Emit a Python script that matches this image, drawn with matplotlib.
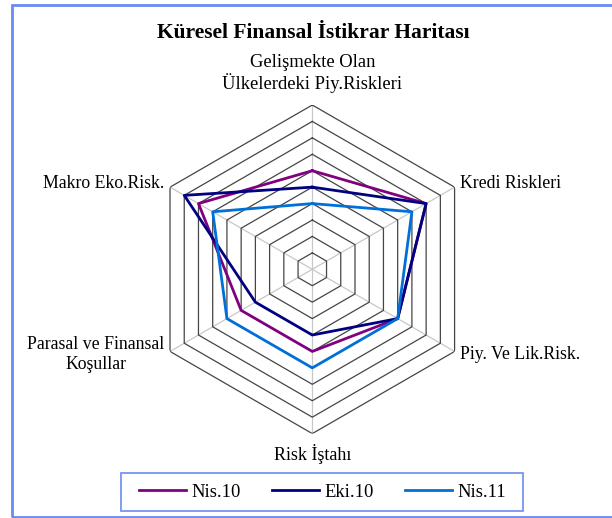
import numpy as np
import matplotlib
matplotlib.use("Agg")
import matplotlib.pyplot as plt
from matplotlib.patches import Rectangle

categories = ["Gelişmekte Olan\nÜlkelerdeki Piy.Riskleri", "Kredi Riskleri",
              "Piy. Ve Lik.Risk.", "Risk İştahı",
              "Parasal ve Finansal\nKoşullar", "Makro Eko.Risk."]
series_names = ["Nis.10", "Eki.10", "Nis.11"]
nis10 = [6, 8, 6, 5, 5, 8]
eki10 = [5, 8, 6, 4, 4, 9]
nis11 = [4, 7, 6, 6, 6, 7]
colors = ["#800080", "#000080", "#0070D8"]
rmax = 10

plt.rcParams['font.family'] = ['Liberation Serif', 'DejaVu Serif']

fig = plt.figure(figsize=(6.12, 5.18), dpi=100)
W, H = 612, 518
cx, cy, R = 312.3, 269.3, 164.3
ax = fig.add_axes([(cx - R) / W, (H - cy - R) / H, 2 * R / W, 2 * R / H], projection='polar')
ax.set_theta_offset(np.pi / 2)
ax.set_theta_direction(-1)
ax.set_ylim(0, rmax)
ax.spines['polar'].set_visible(False)
ax.grid(False)
ax.set_xticks([])
ax.set_yticks([])
ax.patch.set_alpha(0)

n = len(categories)
theta = np.linspace(0, 2 * np.pi, n, endpoint=False)
theta_c = np.append(theta, theta[0])

for t in theta:
    ax.plot([t, t], [0, rmax], color="#C8C8C8", lw=0.9, zorder=1)
for r in range(1, rmax + 1):
    ax.plot(theta_c, [r] * (n + 1), color="#454545", lw=0.9, zorder=2)

for vals, name, c in zip([nis10, eki10, nis11], series_names, colors):
    v = list(vals) + [vals[0]]
    ax.plot(theta_c, v, color=c, lw=2.0, label=name, zorder=3)

# Category labels
fs_top = 13.4
fs_side = 12.8
ls = 1.12
ax.text(theta[0], 10.75, categories[0], ha='center', va='bottom', fontsize=fs_top, linespacing=ls)
ax.text(theta[1], 10.4, categories[1], ha='left', va='center', fontsize=fs_side)
ax.text(theta[2], 10.4, categories[2], ha='left', va='center', fontsize=fs_side)
ax.text(theta[3], 10.65, categories[3], ha='center', va='top', fontsize=13.0)
ax.text(theta[4], 10.4, categories[4], ha='right', va='center', fontsize=fs_side,
        multialignment='center', linespacing=1.2)
ax.text(theta[5], 10.4, categories[5], ha='right', va='center', fontsize=fs_side)

fig.text(313 / W, 1 - 33 / H, "Küresel Finansal İstikrar Haritası", ha='center', va='center',
         fontsize=15.5, fontweight='bold')

leg = fig.legend(loc='center', bbox_to_anchor=(322.5 / W, 1 - 492 / H), ncol=3, frameon=False,
                 fontsize=13.4, handlelength=2.55, handletextpad=0.3,
                 columnspacing=1.65, borderpad=0.3)

fig.patches.append(Rectangle((121 / W, 1 - 511 / H), (523 - 121) / W, (511 - 473) / H,
                             transform=fig.transFigure, fill=False, edgecolor="#6A8CF0",
                             lw=1.2, zorder=0))
fig.patches.append(Rectangle((12 / W, 1 - 517 / H), 1.0, (517 - 5) / H, transform=fig.transFigure,
                             fill=False, edgecolor="#6A8CF0", lw=2, zorder=0))

fig.savefig("out.png", dpi=100)
